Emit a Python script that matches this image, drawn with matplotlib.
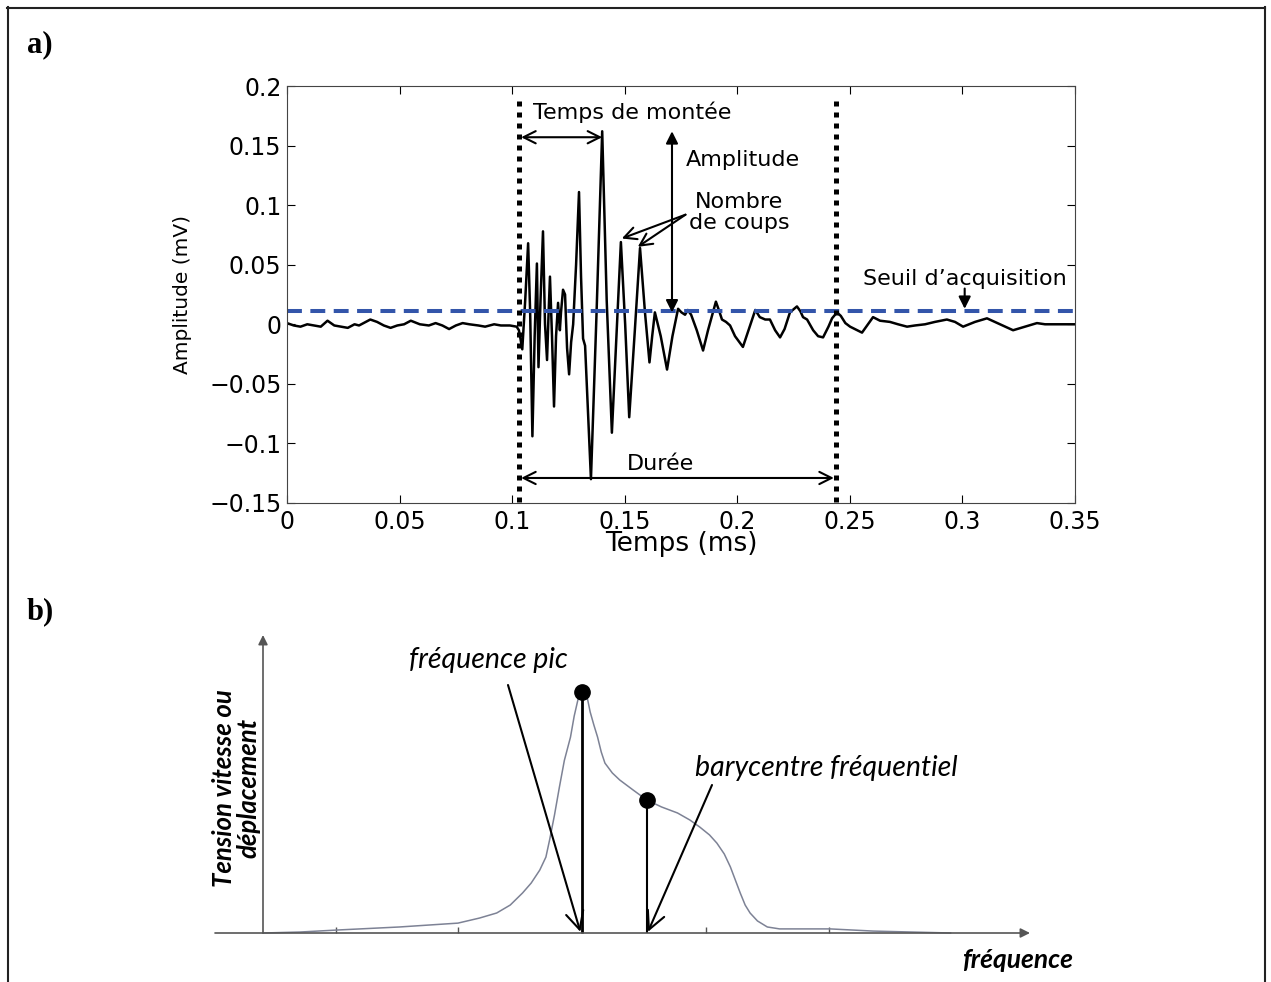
import numpy as np
import matplotlib
matplotlib.use("Agg")
from matplotlib import pyplot as plt
from matplotlib.lines import Line2D

W, H = 1271, 982

# ---- panel a) : acoustic emission waveform (time in ms, amplitude in mV)
wave_t = [0.000, 0.003, 0.006, 0.009, 0.012, 0.015, 0.018, 0.021, 0.024, 0.027,
          0.030, 0.032, 0.035, 0.037, 0.040, 0.043, 0.046, 0.049, 0.052, 0.055,
          0.059, 0.063, 0.066, 0.069, 0.072, 0.075, 0.078, 0.081, 0.085, 0.088,
          0.092, 0.095, 0.099, 0.102, 0.103,
          0.1035, 0.1045, 0.1058, 0.1071, 0.1080, 0.1090, 0.1100, 0.1110, 0.1117, 0.1126,
          0.1137, 0.1146, 0.1155, 0.1162, 0.1168, 0.1177, 0.1186, 0.1195, 0.1204, 0.1212,
          0.1217, 0.1226, 0.1235, 0.1244, 0.1253, 0.1262, 0.1271, 0.1284, 0.1297, 0.1306,
          0.1315, 0.1324, 0.1350, 0.1375, 0.1400, 0.1420, 0.1443, 0.1463, 0.1483, 0.1502,
          0.1520, 0.1545, 0.1568, 0.1590, 0.1610, 0.1622, 0.1634, 0.1660, 0.1688, 0.1712,
          0.1737, 0.1752, 0.1768, 0.1780, 0.1795, 0.1820, 0.1848, 0.1870, 0.1905, 0.1918,
          0.1932, 0.1950, 0.1968, 0.1990, 0.2025, 0.2050, 0.2080, 0.2100, 0.2124, 0.2145,
          0.2168, 0.2190, 0.2210, 0.2234, 0.2265, 0.2280, 0.2292, 0.2310, 0.2337, 0.2359,
          0.2381, 0.2405, 0.2421, 0.2443, 0.2460, 0.2480, 0.2501, 0.2554, 0.2603, 0.2634,
          0.2678, 0.2714, 0.2754, 0.2789, 0.2834, 0.2878, 0.2931, 0.2967, 0.3003, 0.3056,
          0.3109, 0.3167, 0.3225, 0.3278, 0.3331, 0.3367, 0.3500]
wave_amp = [0.001, -0.001, -0.002, 0.000, -0.001, -0.002, 0.003, -0.001, -0.002, -0.003,
            0.000, -0.001, 0.002, 0.004, 0.002, -0.001, -0.003, -0.001, 0.000, 0.003,
            0.000, -0.001, 0.001, -0.001, -0.004, -0.001, 0.001, 0.000, -0.001, -0.002,
            0.000, -0.001, -0.001, -0.002, -0.005,
            -0.010, -0.021, 0.020, 0.068, 0.010, -0.094, -0.010, 0.051, -0.036, 0.020,
            0.078, 0.000, -0.030, 0.010, 0.040, -0.010, -0.069, -0.010, 0.018, -0.005,
            0.010, 0.029, 0.025, -0.020, -0.042, -0.015, 0.000, 0.050, 0.111, 0.040,
            -0.012, -0.018, -0.130, 0.010, 0.162, 0.020, -0.091, -0.010, 0.069, 0.000,
            -0.078, -0.005, 0.064, 0.010, -0.032, -0.010, 0.010, -0.010, -0.038, -0.010,
            0.013, 0.010, 0.008, 0.012, 0.008, -0.005, -0.022, -0.005, 0.019, 0.012,
            0.004, 0.002, -0.001, -0.010, -0.019, -0.005, 0.012, 0.006, 0.004, 0.004,
            -0.005, -0.011, -0.004, 0.010, 0.015, 0.011, 0.006, 0.004, -0.005, -0.010,
            -0.011, -0.002, 0.005, 0.010, 0.007, 0.001, -0.002, -0.007, 0.006, 0.003,
            0.002, 0.000, -0.002, -0.001, 0.000, 0.002, 0.004, 0.002, -0.002, 0.002,
            0.005, 0.000, -0.005, -0.002, 0.001, 0.000, 0.000]

threshold = 0.011
t_start, t_end = 0.103, 0.2439
t_peak, amp_peak = 0.140, 0.162

x_ticks = [0, 0.05, 0.1, 0.15, 0.2, 0.25, 0.3, 0.35]
x_tick_labels = ["0", "0.05", "0.1", "0.15", "0.2", "0.25", "0.3", "0.35"]
y_ticks = [-0.15, -0.1, -0.05, 0, 0.05, 0.1, 0.15, 0.2]
y_tick_labels = ["\u22120.15", "\u22120.1", "\u22120.05", "0", "0.05", "0.1", "0.15", "0.2"]

# ---- panel b) : frequency spectrum (arbitrary units)
freq = [0.00, 0.30, 0.59, 1.11, 1.585, 1.76, 1.90, 2.01, 2.11, 2.18, 2.25,
        2.30, 2.33, 2.37, 2.41, 2.45, 2.50, 2.53, 2.56, 2.58, 2.59, 2.62,
        2.64, 2.66, 2.69, 2.72, 2.75, 2.78, 2.84, 2.90, 3.01, 3.12, 3.24,
        3.37, 3.47, 3.55, 3.63, 3.69, 3.75, 3.80, 3.84, 3.88, 3.92, 3.96,
        4.02, 4.10, 4.20, 4.37, 4.61, 4.96, 5.59]
spec = [0.000, 0.004, 0.012, 0.025, 0.041, 0.062, 0.083, 0.116, 0.166, 0.207, 0.261,
        0.315, 0.386, 0.490, 0.606, 0.716, 0.813, 0.900, 0.967, 0.992, 1.000, 0.992,
        0.967, 0.917, 0.863, 0.813, 0.751, 0.705, 0.664, 0.635, 0.593, 0.552, 0.523,
        0.498, 0.469, 0.440, 0.407, 0.373, 0.328, 0.274, 0.220, 0.166, 0.116, 0.083,
        0.050, 0.025, 0.017, 0.017, 0.017, 0.008, 0.000]
freq_ticks = [0.59, 1.585, 2.59, 3.60, 4.60]
f_peak, a_peak = 2.59, 1.0
f_bary, a_bary = 3.12, 0.552


def fx(x):
    return x / W


def fy(y):
    return 1 - y / H


fig = plt.figure(figsize=(W / 100, H / 100), dpi=100)

# outer frame
for xs, ys in [([7.5, 7.5], [7, 990]), ([7, 1265], [7.5, 7.5]), ([1265, 1265], [7, 990])]:
    fig.add_artist(Line2D([fx(v) for v in xs], [fy(v) for v in ys], color="#222222", lw=1.5))

fig.text(fx(27), fy(45), "a)", fontsize=22, fontweight="bold", family="Liberation Serif", va="center")
fig.text(fx(27), fy(612), "b)", fontsize=22, fontweight="bold", family="Liberation Serif", va="center")

# ---------------- panel a
ax = fig.add_axes([fx(287), fy(503), (1075 - 287) / W, (503 - 86) / H])
ax.plot(wave_t, wave_amp, color="black", lw=1.8)
ax.axhline(threshold, color="#3355aa", lw=2.9, dashes=(3.7, 2.1))
for tv in (t_start, t_end):
    ax.plot([tv, tv], [-0.149, 0.188], color="black", lw=3.6, dashes=(1, 1.2))

ax.set_xlim(0, 0.35)
ax.set_ylim(-0.15, 0.2)
ax.set_xticks(x_ticks)
ax.set_xticklabels(x_tick_labels)
ax.set_yticks(y_ticks)
ax.set_yticklabels(y_tick_labels)
ax.tick_params(direction="in", top=True, right=True, length=6, labelsize=17)
ax.tick_params(axis="x", pad=5)
ax.tick_params(axis="y", pad=4)
for s in ax.spines.values():
    s.set_color("#444444")
ax.set_xlabel("Temps (ms)", fontsize=19)
ax.xaxis.set_label_coords(0.5, -0.068)
ax.set_ylabel("Amplitude (mV)", fontsize=14.5)
ax.yaxis.set_label_coords(-0.12, 0.5)

arr = dict(arrowstyle="<->", color="black", lw=1.5, mutation_scale=22, shrinkA=0, shrinkB=0)
ax.annotate("", xy=(t_start + 0.001, 0.157), xytext=(t_peak, 0.157), arrowprops=arr)
ax.text(0.1093, 0.178, "Temps de montée", fontsize=16, va="center")

ax.annotate("", xy=(0.171, 0.010), xytext=(0.171, amp_peak),
            arrowprops=dict(arrowstyle="<|-|>", color="black", lw=1.5, mutation_scale=18,
                            shrinkA=0, shrinkB=0))
ax.text(0.1773, 0.138, "Amplitude", fontsize=16, va="center")

ax.text(0.2008, 0.0935, "Nombre\nde coups", fontsize=16, va="center", ha="center", linespacing=1.05)
for xt, yt in [(0.1487, 0.072), (0.1558, 0.065)]:
    ax.annotate("", xy=(xt, yt), xytext=(0.177, 0.092),
                arrowprops=dict(arrowstyle="->", color="black", lw=1.5, mutation_scale=22,
                                shrinkA=0, shrinkB=0))

ax.text(0.1657, -0.117, "Durée", fontsize=16, va="center", ha="center")
ax.annotate("", xy=(t_start + 0.001, -0.129), xytext=(t_end - 0.001, -0.129), arrowprops=arr)

ax.text(0.301, 0.038, "Seuil d\u2019acquisition", fontsize=16, va="center", ha="center")
ax.annotate("", xy=(0.301, 0.013), xytext=(0.301, 0.030),
            arrowprops=dict(arrowstyle="-|>", color="black", lw=1.5, mutation_scale=18,
                            shrinkA=0, shrinkB=0))

# ---------------- panel b
x0, y0, ux, uy = 263, 933, 123, 241
bx = fig.add_axes([fx(150), fy(982), 950 / W, 382 / H])
bx.set_xlim((150 - x0) / ux, (1100 - x0) / ux)
bx.set_ylim((y0 - 982) / uy, (y0 - 600) / uy)
bx.axis("off")

axis_arr = dict(arrowstyle="-|>", color="#555555", lw=1.2, mutation_scale=14, shrinkA=0, shrinkB=0)
bx.annotate("", xy=((1030 - x0) / ux, 0), xytext=((215 - x0) / ux, 0), arrowprops=axis_arr)
bx.annotate("", xy=(0, (y0 - 635) / uy), xytext=(0, 0), arrowprops=axis_arr)
bx.vlines(freq_ticks, 0, 0.025, color="#555555", lw=1)

bx.plot(freq, spec, color="#7d8295", lw=1.1)
bx.vlines([f_peak], 0, a_peak, color="black", lw=2)
bx.vlines([f_bary], 0, a_bary, color="black", lw=1.5)
bx.plot([f_peak, f_bary], [a_peak, a_bary], "o", color="black", ms=11)

tip = dict(arrowstyle="->", color="black", lw=1.5, mutation_scale=32, shrinkA=0, shrinkB=0)
bx.annotate("", xy=(f_peak - 0.01, 0.005), xytext=((508 - x0) / ux, (y0 - 685) / uy), arrowprops=tip)
bx.annotate("", xy=(f_bary + 0.01, 0.005), xytext=((712 - x0) / ux, (y0 - 785) / uy), arrowprops=tip)

ital = ["Lato", "DejaVu Sans"]
bx.text((409 - x0) / ux, (y0 - 660) / uy, "fréquence pic", fontsize=20.5, style="italic",
        family=ital, va="center")
bx.text((695 - x0) / ux, (y0 - 768) / uy, "barycentre fréquentiel", fontsize=20.5, style="italic",
        family=ital, va="center")
fig.text(fx(1073), fy(960), "fréquence", fontsize=19, style="italic", fontweight="bold",
         family=ital, va="center", ha="right")
fig.text(fx(236), fy(788), "Tension vitesse ou\ndéplacement", fontsize=18.5, style="italic",
         fontweight="bold", family=ital, va="center", ha="center", rotation=90,
         multialignment="center", linespacing=1.0)

fig.savefig("out.png", dpi=100)
